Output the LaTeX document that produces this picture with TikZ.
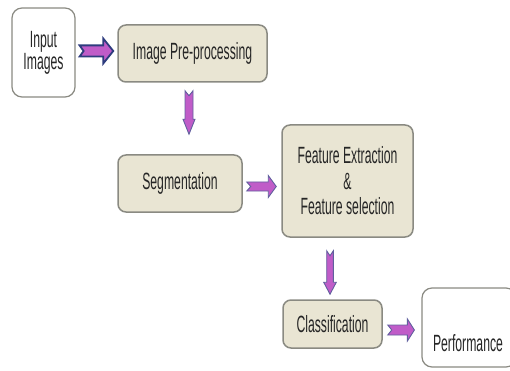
\documentclass[tikz,border=0pt]{standalone}
\usepackage{fontspec}
\setmainfont{Liberation Sans}
\usetikzlibrary{calc}

\definecolor{boxfill}{RGB}{233,229,211}
\definecolor{boxline}{RGB}{138,138,130}
\definecolor{arrowfill}{RGB}{192,92,200}
\definecolor{arrowdark}{RGB}{46,60,126}
\definecolor{arrowsoft}{RGB}{96,96,158}
\definecolor{txt}{RGB}{38,38,38}

% condensed lettering
\newcommand\nar[1]{\scalebox{0.52}[1]{#1}}

% block arrow, left to right: [style]{tail}{tip}{shaft half}{head half}{head length}{notch}
\newcommand\harrow[7][]{%
  \draw[blockarrow,#1] let \p1=(#2), \p2=(#3) in
    (\x1,{\y1+#4pt}) -- ({\x2-#6pt},{\y1+#4pt}) -- ({\x2-#6pt},{\y1+#5pt})
    -- (\x2,\y1) -- ({\x2-#6pt},{\y1-#5pt}) -- ({\x2-#6pt},{\y1-#4pt})
    -- (\x1,{\y1-#4pt}) -- ({\x1+#7pt},\y1) -- cycle;}

% block arrow, top to bottom: [style]{tail}{tip}{shaft half}{head half}{head length}{notch}
\newcommand\varrow[7][]{%
  \draw[blockarrow,#1] let \p1=(#2), \p2=(#3) in
    ({\x1-#4pt},\y1) -- ({\x1-#4pt},{\y2+#6pt}) -- ({\x1-#5pt},{\y2+#6pt})
    -- (\x1,\y2) -- ({\x1+#5pt},{\y2+#6pt}) -- ({\x1+#4pt},{\y2+#6pt})
    -- ({\x1+#4pt},\y1) -- (\x1,{\y1-#7pt}) -- cycle;}

\begin{document}
\begin{tikzpicture}[x=1pt,y=-1pt,
  every node/.style={text=txt, inner sep=0pt, font=\fontsize{23.5}{21}\selectfont},
  stagebox/.style={draw=boxline, line width=1.5pt, rounded corners=8pt, fill=boxfill},
  plainbox/.style={draw=boxline, line width=1.2pt, rounded corners=10pt, fill=white},
  blockarrow/.style={fill=arrowfill, draw=arrowsoft, line width=0.9pt, line join=miter}]

\useasboundingbox (0,0) rectangle (510,371);
\clip (0,0) rectangle (510,371);

% stages
\node[plainbox, minimum width=63pt, minimum height=89pt, align=center]
  (in) at (43.5,52.5) {\nar{Input}\\\nar{Images}};
\node[stagebox, minimum width=149pt, minimum height=57pt]
  (pre) at (192.5,53.5) {\nar{Image Pre-processing}};
\node[stagebox, minimum width=124pt, minimum height=57pt]
  (seg) at (180,183.5) {\nar{Segmentation}};
\node[stagebox, minimum width=131pt, minimum height=112pt, align=center,
  font=\fontsize{23.5}{25.5}\selectfont]
  (feat) at (347.5,181) {\nar{Feature Extraction}\\\nar{\&}\\\nar{Feature selection}};
\node[stagebox, minimum width=99pt, minimum height=48pt]
  (cls) at (332.5,324) {\nar{Classification}};
\node[plainbox, minimum width=94pt, minimum height=79pt,
  label={[yshift=-15.5pt, xshift=-1pt]center:\nar{Performance}}]
  (perf) at (469,327.5) {};

% connectors
\harrow[draw=arrowdark, line width=1.8pt]
  {$(in.east)+(4,-1.5)$}{$(pre.west)+(-4,-2.5)$}{5.6}{12.5}{10}{4}
\varrow{$(pre.south)+(-3.5,8)$}{$(seg.north)+(9,-20)$}{4}{6}{15}{5}
\harrow{$(seg.east)+(4,3)$}{$(feat.west)+(-5,5.5)$}{4.5}{11}{8}{4}
\varrow{$(feat.south)+(-17.5,13)$}{$(cls.north)+(-2.5,-5)$}{3.3}{6.3}{12}{5}
\harrow{$(cls.east)+(5,6)$}{$(perf.west)+(-7,2.5)$}{5}{11}{7}{4}
\end{tikzpicture}
\end{document}
